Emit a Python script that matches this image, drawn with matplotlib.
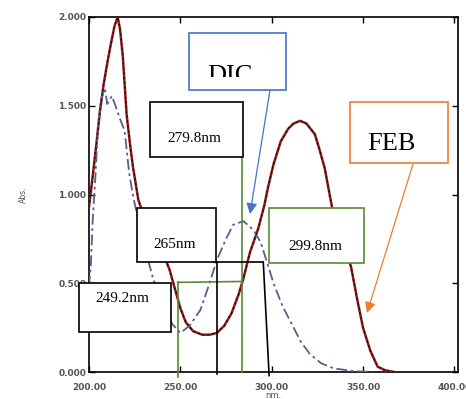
import numpy as np
import matplotlib
matplotlib.use("Agg")
import matplotlib.pyplot as plt
from matplotlib.patches import Rectangle
from matplotlib.transforms import Bbox, TransformedBbox

# spectra (wavelength nm, absorbance)
feb_nm = [200, 202, 204, 206, 208, 210, 212, 214, 215.7, 217, 218.5, 220.6, 222.5, 224, 227, 230, 235, 240,
          244, 247, 250, 253, 257, 262, 266, 270, 274, 278, 282, 284.6, 288, 292.7, 296, 298, 301, 305, 309,
          312, 315.5, 319, 323.6, 326, 329, 333, 337, 343.5, 347, 350, 354, 358, 362, 367]
feb_abs = [0.93, 1.10, 1.28, 1.47, 1.62, 1.74, 1.85, 1.95, 2.00, 1.93, 1.78, 1.45, 1.28, 1.16, 0.97, 0.88,
           0.78, 0.68, 0.58, 0.47, 0.36, 0.28, 0.23, 0.21, 0.21, 0.22, 0.26, 0.33, 0.44, 0.53, 0.67, 0.81,
           0.94, 1.04, 1.17, 1.30, 1.37, 1.40, 1.415, 1.40, 1.34, 1.26, 1.15, 0.93, 0.80, 0.59, 0.40, 0.25,
           0.12, 0.03, 0.01, 0.0]

dic_nm = [200, 201, 202, 203.5, 205, 207, 208.7, 210, 212.5, 214.5, 216.8, 219.5, 222, 224, 227, 230, 235,
          240, 245.6, 250, 255, 261, 265, 270, 275, 279, 284.6, 290, 294, 298, 301, 306, 312, 316, 321, 327,
          334, 345, 355]
dic_abs = [0.48, 0.60, 0.85, 1.10, 1.40, 1.55, 1.60, 1.51, 1.555, 1.50, 1.43, 1.36, 1.12, 1.00, 0.85, 0.72,
           0.53, 0.38, 0.27, 0.22, 0.26, 0.35, 0.47, 0.63, 0.75, 0.83, 0.85, 0.80, 0.73, 0.60, 0.50, 0.37,
           0.25, 0.17, 0.10, 0.05, 0.02, 0.005, 0.0]

x_ticks = [200, 250, 300, 350, 400]
y_ticks = [0.0, 0.5, 1.0, 1.5, 2.0]

W, H = 466, 399
fig = plt.figure(figsize=(W / 100, H / 100), dpi=100)
ax = fig.add_axes([89 / W, 1 - 372 / H, (458 - 89) / W, (372 - 17) / H])

ax.plot(feb_nm, feb_abs, color="#8b1a1a", lw=1.8, zorder=3)
ax.plot(feb_nm, feb_abs, color="black", lw=0.7, ls=(0, (2, 3)), zorder=4)
ax.plot(dic_nm, dic_abs, color="#56608e", lw=1.3, ls=(0, (6, 2, 1.5, 2)), zorder=3)

ax.set_xlim(200, 402)
ax.set_ylim(0, 2.0)
ax.set_xticks(x_ticks)
ax.set_xticklabels([f"{v:.2f}" for v in x_ticks])
ax.set_yticks(y_ticks)
ax.set_yticklabels([f"{v:.3f}" for v in y_ticks])
ax.tick_params(direction="in", top=True, right=True, length=4, width=1, pad=2,
               labelsize=6.5, labelcolor="#555555")
ax.tick_params(axis="x", pad=8)
for lab in ax.get_xticklabels() + ax.get_yticklabels():
    lab.set_fontweight("semibold")
for s in ax.spines.values():
    s.set_linewidth(1.2)
ax.set_ylabel("Abs.", fontsize=5.5, color="#555555", labelpad=22)
ax.set_xlabel("nm.", fontsize=6, color="#555555", labelpad=-1)

# marker lines at the read wavelengths
green = "#5a8a35"
kw = dict(clip_on=False, zorder=5)
ax.plot([248.5, 248.5], [-0.03, 0.505], color=green, lw=1.2, **kw)
ax.plot([248.5, 283.5], [0.505, 0.51], color=green, lw=1.2, **kw)
ax.plot([283.5, 283.5], [0.0, 1.21], color=green, lw=1.2, **kw)
ax.plot([269.9, 269.9], [-0.01, 0.62], color="black", lw=1.2, **kw)
ax.plot([268.5, 295.4], [0.62, 0.62], color="black", lw=1.2, **kw)
ax.plot([295.4, 298.6], [0.62, -0.02], color="black", lw=1.2, **kw)


def fx(x):
    return x / W


def fy(y):
    return 1 - y / H


def box(x0, y0, x1, y1, ec):
    r = Rectangle((fx(x0), fy(y1)), fx(x1 - x0), (y1 - y0) / H, transform=fig.transFigure,
                  facecolor="white", edgecolor=ec, lw=1.2, zorder=6)
    fig.patches.append(r)
    return r


serif = "Liberation Serif"
box(150, 102, 243, 157, "black")
fig.text(fx(194), fy(138), "279.8nm", ha="center", va="center", fontsize=11, family=serif, zorder=7)
box(137, 208, 216, 262, "black")
fig.text(fx(175), fy(244), "265nm", ha="center", va="center", fontsize=11, family=serif, zorder=7)
box(79, 283, 171, 332, "black")
fig.text(fx(122), fy(299), "249.2nm", ha="center", va="center", fontsize=11, family=serif, zorder=7)
box(269, 208, 364, 263, green)
fig.text(fx(315), fy(246), "299.8nm", ha="center", va="center", fontsize=11, family=serif, zorder=7)

box(189, 33, 286, 90, "#4472c4")
t = fig.text(fx(230), fy(82), "DIC", ha="center", va="baseline", fontsize=19, family=serif, zorder=7)
t.set_clip_box(TransformedBbox(Bbox([[fx(189), fy(77)], [fx(286), fy(33)]]), fig.transFigure))
t.set_clip_on(True)

box(350, 102, 448, 163, "#ed7d31")
fig.text(fx(391), fy(150), "FEB", ha="center", va="baseline", fontsize=19, family=serif, zorder=7)

ax.annotate("", xy=(fx(250), fy(214)), xytext=(fx(270), fy(90)), xycoords="figure fraction",
            textcoords="figure fraction",
            arrowprops=dict(arrowstyle="-|>", color="#4472c4", lw=0.9, mutation_scale=16,
                            shrinkA=0, shrinkB=0), zorder=8)
ax.annotate("", xy=(fx(367), fy(313)), xytext=(fx(413), fy(164)), xycoords="figure fraction",
            textcoords="figure fraction",
            arrowprops=dict(arrowstyle="-|>", color="#ed7d31", lw=0.9, mutation_scale=16,
                            shrinkA=0, shrinkB=0), zorder=8)

fig.savefig("out.png", dpi=100)
